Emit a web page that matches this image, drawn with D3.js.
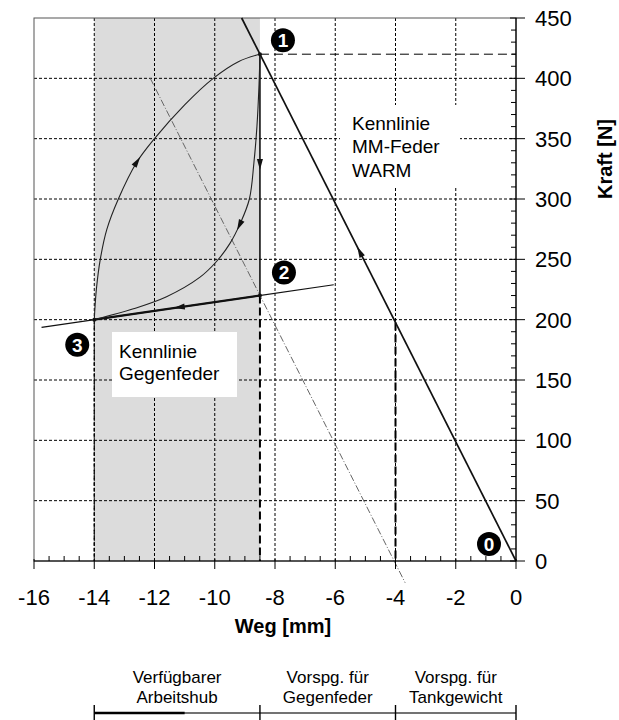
<!DOCTYPE html>
<html>
<head>
<meta charset="utf-8">
<script src="https://cdn.jsdelivr.net/npm/d3@7"></script>
<style>
  body { margin: 0; background: #fff; }
  text { font-family: Arial, "Liberation Sans", sans-serif; fill: #000; }
</style>
</head>
<body>
<div id="chart"></div>
<script>
// data
var xTicks = [-16, -14, -12, -10, -8, -6, -4, -2, 0];
var yTicks = [0, 50, 100, 150, 200, 250, 300, 350, 400, 450];
var shadeRange = [-14, -8.5];
var mmLine = [[0, 0], [-9.107, 450]];
var coldLine = [[-12.14, 400], [-3.68, -18]];
var gegenLine = [[-15.75, 193.6], [-6.05, 228.9]];
var gegenThick = [[-8.5, 220], [-14, 200]];
var upperCurve = [[-14, 200], [-13.93, 225], [-13.8, 250], [-13.58, 275], [-13.2, 300],
  [-12.6, 330], [-12.0, 350], [-11.0, 378], [-10.05, 400], [-9.2, 414], [-8.5, 420]];
var lowerCurve = [[-8.5, 420], [-8.53, 395], [-8.6, 360], [-8.7, 330], [-8.85, 300],
  [-9.15, 280], [-9.5, 263], [-9.95, 248], [-10.5, 235], [-11.6, 219], [-12.7, 209], [-14, 200]];
var points = [
  {label: "1", x: -8.5, y: 420, dx: 23, dy: -14},
  {label: "2", x: -8.5, y: 220, dx: 24, dy: -23},
  {label: "3", x: -14, y: 200, dx: -17, dy: 25},
  {label: "0", x: 0, y: 0, dx: -27, dy: -17}
];
var brackets = [-14, -8.5, -4, 0];
var bracketLabels = [
  ["Verfügbarer", "Arbeitshub"],
  ["Vorspg. für", "Gegenfeder"],
  ["Vorspg. für", "Tankgewicht"]
];

var W = 619, H = 720;
var pLeft = 34, pRight = 516, pTop = 18, pBottom = 561;

var svg = d3.select("#chart").append("svg")
  .attr("width", W).attr("height", H);

var x = d3.scaleLinear().domain([-16, 0]).range([pLeft, pRight]);
var y = d3.scaleLinear().domain([0, 450]).range([pBottom, pTop]);
var line = d3.line().x(function (d) { return x(d[0]); }).y(function (d) { return y(d[1]); });
var curve = d3.line().x(function (d) { return x(d[0]); }).y(function (d) { return y(d[1]); })
  .curve(d3.curveCatmullRom.alpha(0.5));

// shaded stroke area
svg.append("rect")
  .attr("x", x(shadeRange[0])).attr("y", pTop)
  .attr("width", x(shadeRange[1]) - x(shadeRange[0]))
  .attr("height", pBottom - pTop)
  .attr("fill", "#dcdcdc");

// grid
svg.append("g").selectAll("line")
  .data(xTicks.slice(1, -1))
  .enter().append("line")
  .attr("x1", function (d) { return x(d); }).attr("x2", function (d) { return x(d); })
  .attr("y1", pTop).attr("y2", pBottom)
  .attr("stroke", "#000").attr("stroke-width", 1)
  .attr("stroke-dasharray", "3,2");
svg.append("g").selectAll("line")
  .data(yTicks.slice(1, -1))
  .enter().append("line")
  .attr("x1", pLeft).attr("x2", pRight)
  .attr("y1", function (d) { return y(d); }).attr("y2", function (d) { return y(d); })
  .attr("stroke", "#000").attr("stroke-width", 1)
  .attr("stroke-dasharray", "3,2");

// frame
svg.append("rect")
  .attr("x", pLeft).attr("y", pTop)
  .attr("width", pRight - pLeft).attr("height", pBottom - pTop)
  .attr("fill", "none").attr("stroke", "#555").attr("stroke-width", 1);

// label boxes (hide grid behind)
svg.append("rect").attr("x", 340).attr("y", 105).attr("width", 120).attr("height", 82).attr("fill", "#fff");
svg.append("rect").attr("x", 112).attr("y", 332).attr("width", 125).attr("height", 65).attr("fill", "#fff");

// helper dashed lines
svg.append("line")
  .attr("x1", x(-8.5)).attr("x2", x(0)).attr("y1", y(420)).attr("y2", y(420))
  .attr("stroke", "#000").attr("stroke-width", 1).attr("stroke-dasharray", "9,5");
svg.append("line")
  .attr("x1", x(-8.5)).attr("x2", x(-8.5)).attr("y1", y(220)).attr("y2", y(0))
  .attr("stroke", "#000").attr("stroke-width", 2).attr("stroke-dasharray", "8,4");
svg.append("line")
  .attr("x1", x(-4)).attr("x2", x(-4)).attr("y1", y(-4 * -420 / 8.5)).attr("y2", y(0))
  .attr("stroke", "#000").attr("stroke-width", 2).attr("stroke-dasharray", "8,4");
svg.append("line")
  .attr("x1", x(-14)).attr("x2", x(-14)).attr("y1", y(200)).attr("y2", y(0))
  .attr("stroke", "#000").attr("stroke-width", 1.3).attr("stroke-dasharray", "4,2");

// cold characteristic
svg.append("path").attr("d", line(coldLine))
  .attr("fill", "none").attr("stroke", "#666").attr("stroke-width", 1)
  .attr("stroke-dasharray", "7,2,1,2");

// MM spring line
svg.append("path").attr("d", line(mmLine))
  .attr("fill", "none").attr("stroke", "#111").attr("stroke-width", 1.7);

// counter spring line
svg.append("path").attr("d", line(gegenLine))
  .attr("fill", "none").attr("stroke", "#111").attr("stroke-width", 1.1);
svg.append("path").attr("d", line(gegenThick))
  .attr("fill", "none").attr("stroke", "#111").attr("stroke-width", 2.2);

// vertical 1 -> 2
svg.append("line")
  .attr("x1", x(-8.5)).attr("x2", x(-8.5)).attr("y1", y(420)).attr("y2", y(220))
  .attr("stroke", "#111").attr("stroke-width", 1.6);

// hysteresis curves
var upPath = svg.append("path").attr("d", curve(upperCurve))
  .attr("fill", "none").attr("stroke", "#222").attr("stroke-width", 1.1);
var lowPath = svg.append("path").attr("d", curve(lowerCurve))
  .attr("fill", "none").attr("stroke", "#222").attr("stroke-width", 1.1);

// arrow heads
function arrowAt(px, py, angle) {
  svg.append("path")
    .attr("d", "M0,0L-11,-3L-11,3Z")
    .attr("transform", "translate(" + px + "," + py + ") rotate(" + angle + ")")
    .attr("fill", "#111");
}
function arrowOnPath(node, frac) {
  var L = node.getTotalLength();
  var p0 = node.getPointAtLength(L * frac - 2), p1 = node.getPointAtLength(L * frac + 2);
  arrowAt(p1.x, p1.y, Math.atan2(p1.y - p0.y, p1.x - p0.x) * 180 / Math.PI);
}
function arrowOnLine(a, b, t) {
  var px = x(a[0] + (b[0] - a[0]) * t), py = y(a[1] + (b[1] - a[1]) * t);
  var ang = Math.atan2(y(b[1]) - y(a[1]), x(b[0]) - x(a[0])) * 180 / Math.PI;
  arrowAt(px, py, ang);
}
arrowOnLine([0, 0], [-8.5, 420], 0.62);
arrowOnLine([-8.5, 420], [-8.5, 220], 0.48);
arrowOnLine([-8.5, 220], [-14, 200], 0.52);
arrowOnPath(upPath.node(), 0.51);
arrowOnPath(lowPath.node(), 0.5);

// small dots at the corner points
svg.selectAll(".dot").data(points.slice(0, 3)).enter().append("circle")
  .attr("cx", function (d) { return x(d.x); }).attr("cy", function (d) { return y(d.y); })
  .attr("r", 2).attr("fill", "#111");

// numbered markers
var mk = svg.selectAll(".mk").data(points).enter().append("g")
  .attr("transform", function (d) { return "translate(" + (x(d.x) + d.dx) + "," + (y(d.y) + d.dy) + ")"; });
mk.append("circle").attr("r", 12).attr("fill", "#000");
mk.append("text").attr("text-anchor", "middle").attr("dy", "0.36em")
  .style("font-size", "19px").style("font-weight", "bold").style("fill", "#fff")
  .text(function (d) { return d.label; });

// in-plot texts
svg.append("text").style("font-size", "19px")
  .selectAll("tspan").data(["Kennlinie", "MM-Feder", "WARM"]).enter().append("tspan")
  .attr("x", 352).attr("y", function (d, i) { return 129.5 + i * 23.5; }).text(function (d) { return d; });
svg.append("text").style("font-size", "19px")
  .selectAll("tspan").data(["Kennlinie", "Gegenfeder"]).enter().append("tspan")
  .attr("x", 119).attr("y", function (d, i) { return 357.5 + i * 22; }).text(function (d) { return d; });

// x axis
svg.append("line").attr("x1", pLeft).attr("x2", pRight).attr("y1", pBottom).attr("y2", pBottom)
  .attr("stroke", "#000").attr("stroke-width", 1.2);
svg.append("g").selectAll("line").data(d3.range(-16, 0.01, 0.5)).enter().append("line")
  .attr("x1", function (d) { return x(d); }).attr("x2", function (d) { return x(d); })
  .attr("y1", function (d) { return d % 2 === 0 ? pBottom - 2 : pBottom - 5; })
  .attr("y2", function (d) { return d % 2 === 0 ? pBottom + 8 : pBottom; })
  .attr("stroke", "#000").attr("stroke-width", 1);
svg.append("g").selectAll("text").data(xTicks).enter().append("text")
  .attr("x", function (d) { return x(d); }).attr("y", 605)
  .attr("text-anchor", "middle").style("font-size", "22px")
  .text(function (d) { return d; });
svg.append("text").attr("x", 283).attr("y", 633).attr("text-anchor", "middle")
  .style("font-size", "20px").style("font-weight", "bold").text("Weg [mm]");

// y axis (right)
svg.append("line").attr("x1", pRight).attr("x2", pRight).attr("y1", pTop).attr("y2", pBottom)
  .attr("stroke", "#000").attr("stroke-width", 1.2);
svg.append("g").selectAll("line").data(d3.range(0, 450.1, 10)).enter().append("line")
  .attr("x1", function (d) { return d % 50 === 0 ? pRight - 6 : pRight - 5; })
  .attr("x2", function (d) { return d % 50 === 0 ? pRight + 9 : pRight; })
  .attr("y1", function (d) { return y(d); }).attr("y2", function (d) { return y(d); })
  .attr("stroke", "#000").attr("stroke-width", 1);
svg.append("g").selectAll("text").data(yTicks).enter().append("text")
  .attr("x", 535).attr("y", function (d) { return y(d) + 8; })
  .style("font-size", "22px").text(function (d) { return d; });
svg.append("text").attr("transform", "translate(612,159) rotate(-90)")
  .attr("text-anchor", "middle").style("font-size", "20px").style("font-weight", "bold")
  .text("Kraft [N]");

// bottom bracket
var by = 713;
svg.append("line").attr("x1", x(-14)).attr("x2", x(0)).attr("y1", by).attr("y2", by)
  .attr("stroke", "#444").attr("stroke-width", 1.6);
svg.append("line").attr("x1", x(-14)).attr("x2", x(-11)).attr("y1", by).attr("y2", by)
  .attr("stroke", "#000").attr("stroke-width", 2.4);
svg.append("g").selectAll("line").data(brackets).enter().append("line")
  .attr("x1", function (d) { return x(d); }).attr("x2", function (d) { return x(d); })
  .attr("y1", by - 8).attr("y2", by + 8)
  .attr("stroke", "#000").attr("stroke-width", 1.4);
var bl = svg.append("g").selectAll("text").data(bracketLabels).enter().append("text")
  .attr("text-anchor", "middle").style("font-size", "17px");
bl.selectAll("tspan").data(function (d, i) { return d.map(function (t) { return {t: t, i: i}; }); })
  .enter().append("tspan")
  .attr("x", function (d) { return (x(brackets[d.i]) + x(brackets[d.i + 1])) / 2; })
  .attr("y", function (d, j) { return j ? 703 : 683; })
  .text(function (d) { return d.t; });
</script>
</body>
</html>
